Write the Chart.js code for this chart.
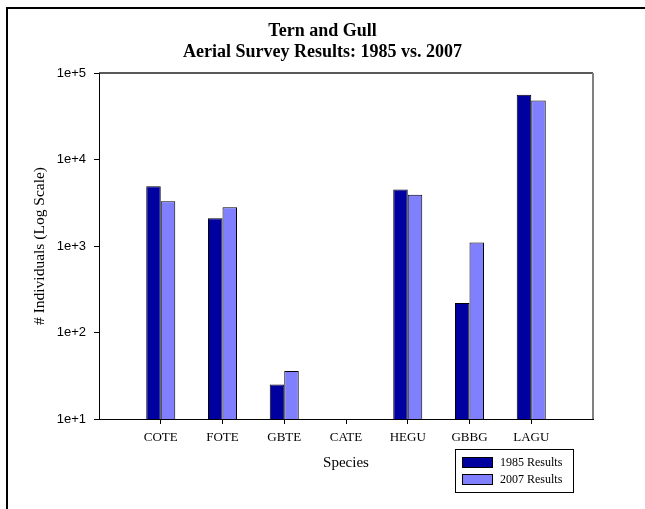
<!DOCTYPE html>
<html>
<head>
<meta charset="utf-8">
<script src="https://cdn.jsdelivr.net/npm/chart.js@4/dist/chart.umd.min.js"></script>
<style>
  body { margin: 0; background: #fff; }
  #wrap { width: 645px; height: 509px; position: relative; }
</style>
</head>
<body>
<div id="wrap"><canvas id="survey" width="645" height="509"></canvas></div>
<script>
// species codes along the x axis
const species = ["COTE", "FOTE", "GBTE", "CATE", "HEGU", "GBBG", "LAGU"];
// birds counted in each survey (CATE had none, nothing to plot on a log axis)
const counts1985 = [4900, 2100, 25, null, 4500, 220, 56000];
const counts2007 = [3300, 2800, 36, null, 3900, 1100, 48000];
// decade ticks on the y axis
const yTickLabels = ["1e+1", "1e+2", "1e+3", "1e+4", "1e+5"];

const serif = "'Liberation Serif', 'Times New Roman', serif";
const sans = "'Liberation Sans', Arial, sans-serif";

// one empty slot at each end so the groups sit away from the axes
const labels = [""].concat(species, [""]);
const pad = arr => [null].concat(arr, [null]);

// outer frame, plot frame and the boxed legend
const extras = {
  id: "extras",
  afterDraw(chart) {
    const ctx = chart.ctx;
    const a = chart.chartArea;
    ctx.save();

    // page frame (top + left)
    ctx.strokeStyle = "#000";
    ctx.lineWidth = 2;
    ctx.beginPath();
    ctx.moveTo(7, 509);
    ctx.lineTo(7, 8);
    ctx.lineTo(645, 8);
    ctx.stroke();

    // top and right edges of plot
    ctx.lineWidth = 1.5;
    ctx.strokeStyle = "#222";
    ctx.beginPath();
    ctx.moveTo(a.left, a.top);
    ctx.lineTo(a.right, a.top);
    ctx.stroke();
    ctx.lineWidth = 2;
    ctx.strokeStyle = "#808080";
    ctx.beginPath();
    ctx.moveTo(a.right, a.top);
    ctx.lineTo(a.right, a.bottom);
    ctx.stroke();

    // legend
    const bx = a.right - 138, by = a.bottom + 30, bw = 118, bh = 43;
    ctx.fillStyle = "#fff";
    ctx.fillRect(bx, by, bw, bh);
    ctx.lineWidth = 1;
    ctx.strokeStyle = "#000";
    ctx.strokeRect(bx + 0.5, by + 0.5, bw, bh);
    ctx.font = "12px " + serif;
    ctx.textBaseline = "middle";
    chart.data.datasets.forEach((ds, i) => {
      const y = by + 13 + i * 17;
      ctx.fillStyle = ds.backgroundColor;
      ctx.fillRect(bx + 7, y - 5, 30, 10);
      ctx.strokeStyle = "#000";
      ctx.strokeRect(bx + 7.5, y - 4.5, 30, 10);
      ctx.fillStyle = "#000";
      ctx.fillText(ds.label, bx + 45, y + 1);
    });
    ctx.restore();
  }
};

new Chart(document.getElementById("survey"), {
  type: "bar",
  data: {
    labels: labels,
    datasets: [
      {
        label: "1985 Results",
        data: pad(counts1985),
        backgroundColor: "#0000A0",
        borderColor: "#000",
        borderWidth: 1
      },
      {
        label: "2007 Results",
        data: pad(counts2007),
        backgroundColor: "#8080FF",
        borderColor: "#000",
        borderWidth: 1
      }
    ]
  },
  options: {
    responsive: false,
    animation: false,
    devicePixelRatio: 1,
    categoryPercentage: 0.47,
    barPercentage: 1,
    layout: { padding: 0 },
    plugins: {
      legend: { display: false },
      tooltip: { enabled: false },
      title: {
        display: true,
        text: ["Tern and Gull", "Aerial Survey Results: 1985 vs. 2007"],
        color: "#000",
        font: { family: serif, size: 18, weight: "bold", lineHeight: "21px" },
        padding: { top: 21, bottom: 10 }
      }
    },
    scales: {
      x: {
        offset: false,
        grid: {
          offset: false,
          drawOnChartArea: false,
          tickLength: 5,
          tickColor: c => (c.index === 0 || c.index === labels.length - 1) ? "transparent" : "#000"
        },
        border: { color: "#000", width: 1 },
        ticks: {
          color: "#000",
          font: { family: serif, size: 13 },
          padding: 6,
          maxRotation: 0,
          autoSkip: false
        },
        title: {
          display: true,
          text: "Species",
          color: "#000",
          font: { family: serif, size: 15 },
          padding: { bottom: 37 }
        },
        afterFit: s => { s.height = 90; }
      },
      y: {
        type: "logarithmic",
        min: Number(yTickLabels[0]),
        max: Number(yTickLabels[yTickLabels.length - 1]),
        grid: { drawOnChartArea: false, tickLength: 5, tickColor: "#000" },
        border: { color: "#000", width: 1 },
        afterBuildTicks: s => { s.ticks = yTickLabels.map(t => ({ value: Number(t) })); },
        ticks: {
          color: "#000",
          font: { family: sans, size: 13 },
          padding: 8,
          callback: (v, i) => yTickLabels[i]
        },
        title: {
          display: true,
          text: "# Individuals (Log Scale)",
          color: "#000",
          font: { family: serif, size: 15.5 },
          padding: { top: 31 }
        },
        afterFit: s => { s.width = 99; }
      },
      // empty strip on the right so the plot ends short of the canvas edge
      spacer: {
        type: "linear",
        position: "right",
        grid: { display: false },
        border: { display: false },
        ticks: { display: false },
        afterFit: s => { s.width = 52; }
      }
    }
  },
  plugins: [extras]
});
</script>
</body>
</html>
